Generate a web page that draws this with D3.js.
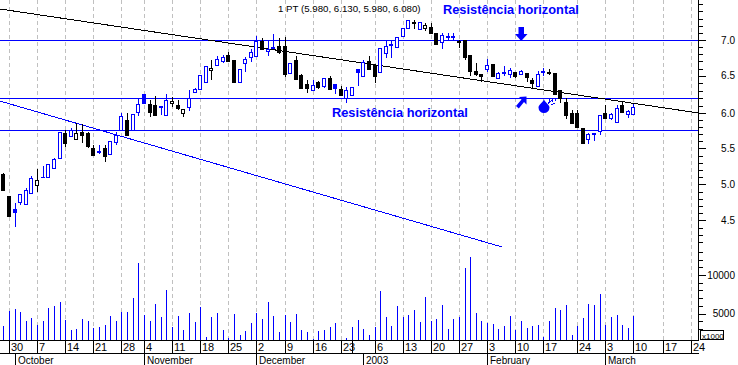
<!DOCTYPE html>
<html><head><meta charset="utf-8">
<style>html,body{margin:0;padding:0;background:#fff}svg{display:block}text{font-family:"Liberation Sans",Arial,sans-serif}</style>
<script src="https://cdn.jsdelivr.net/npm/d3@7/dist/d3.min.js"></script></head>
<body><svg id="c" width="738" height="365"></svg>
<script>
const highs=[5.173,4.863,4.763,4.886,4.977,5.137,5.233,5.274,5.297,5.379,5.740,5.767,5.790,5.858,5.845,5.744,5.562,5.562,5.562,5.612,5.744,6.005,6.005,5.982,6.201,6.260,6.178,6.233,6.096,6.260,6.224,6.178,6.059,6.315,6.338,6.516,6.639,6.726,6.781,6.790,6.831,6.721,6.598,6.763,6.872,7.055,7.023,7.000,7.078,7.023,7.046,6.690,6.781,6.530,6.452,6.452,6.438,6.475,6.507,6.397,6.370,6.352,6.361,6.598,6.726,6.781,6.653,6.886,7.000,7.000,7.037,7.169,7.274,7.274,7.251,7.237,7.228,7.091,7.091,7.091,7.091,7.000,7.000,6.795,6.680,6.530,6.735,6.667,6.566,6.644,6.612,6.557,6.589,6.548,6.475,6.580,6.612,6.598,6.548,6.310,6.201,6.041,6.041,5.790,5.721,5.731,5.977,6.105,5.995,6.105,6.169,6.041,6.13];
const lows=[4.936,4.589,4.443,4.740,4.740,4.900,4.922,5.105,5.128,5.237,5.388,5.539,5.676,5.648,5.584,5.525,5.425,5.438,5.333,5.443,5.562,5.763,5.699,5.763,5.960,6.132,5.950,5.963,5.968,5.977,6.087,6.041,5.950,6.032,6.279,6.333,6.406,6.452,6.653,6.690,6.703,6.429,6.429,6.566,6.703,6.781,6.863,6.781,6.895,6.808,6.498,6.553,6.452,6.338,6.279,6.306,6.324,6.338,6.324,6.256,6.247,6.142,6.233,6.370,6.507,6.589,6.416,6.566,6.749,6.749,6.886,7.046,7.146,7.151,7.146,7.128,7.091,6.932,6.872,7.000,7.000,6.886,6.726,6.507,6.507,6.429,6.566,6.511,6.461,6.507,6.484,6.475,6.521,6.420,6.324,6.352,6.511,6.521,6.260,6.142,5.918,5.849,5.804,5.584,5.575,5.621,5.699,5.936,5.904,5.881,6.018,5.936,5.98];
const opens=[5.164,4.863,4.648,4.781,4.753,4.900,5.082,5.119,5.128,5.251,5.388,5.721,5.685,5.721,5.744,5.731,5.516,5.466,5.516,5.443,5.607,5.763,5.899,5.763,6.018,6.132,6.123,6.105,6.087,5.977,6.160,6.105,6.059,6.087,6.288,6.333,6.420,6.621,6.662,6.712,6.795,6.721,6.429,6.680,6.772,6.781,6.986,6.845,6.895,6.918,6.918,6.553,6.726,6.521,6.397,6.315,6.420,6.374,6.484,6.338,6.333,6.201,6.247,6.566,6.507,6.712,6.653,6.566,6.817,6.932,6.909,7.059,7.160,7.247,7.146,7.205,7.174,7.091,6.968,7.046,7.046,6.991,7.000,6.795,6.580,6.530,6.598,6.667,6.475,6.553,6.539,6.557,6.534,6.548,6.452,6.374,6.562,6.557,6.548,6.310,6.151,5.995,5.995,5.790,5.639,5.712,5.753,5.995,5.932,5.881,6.105,5.986,5.98];
const closes=[4.945,4.589,4.685,4.886,4.945,5.110,5.014,5.128,5.297,5.370,5.740,5.594,5.763,5.648,5.694,5.548,5.429,5.484,5.416,5.612,5.699,5.954,5.699,5.982,6.119,6.260,6.014,5.973,6.096,6.174,6.132,6.069,6.005,6.201,6.333,6.516,6.639,6.594,6.735,6.763,6.712,6.429,6.598,6.740,6.831,6.991,6.877,6.877,6.904,6.840,6.534,6.680,6.466,6.347,6.347,6.384,6.352,6.475,6.333,6.397,6.251,6.315,6.352,6.598,6.694,6.598,6.507,6.886,6.918,6.941,7.037,7.160,7.274,7.237,7.251,7.160,7.091,6.941,7.068,7.055,7.055,6.977,6.772,6.580,6.534,6.511,6.653,6.511,6.543,6.566,6.589,6.507,6.571,6.498,6.416,6.530,6.571,6.548,6.265,6.201,5.973,5.858,5.813,5.594,5.712,5.721,5.968,5.936,5.986,6.073,6.018,6.027,6.08];
const volumes=[3377,5325,5585,5195,4026,4416,3506,4026,5714,5974,6494,4156,2857,2987,4286,4026,3117,3247,3506,4675,4026,5195,5195,7013,11558,4805,4026,6234,4545,8052,3247,4675,2857,5065,3896,5844,1948,4545,5065,2857,1818,4935,2208,
2727,3766,5065,4286,6494,4675,2597,4805,3896,4935,2857,2597,1688,2727,2857,3247,3766,1560,1818,3247,4156,2987,2208,3247,7922,4545,3377,5974,4545,4805,5455,3896,7143,4026,4286,6104,2987,4286,4545,10909,12338,5065,
4026,3766,3636,2987,3377,4675,2857,4026,3117,3377,3506,1948,4026,5714,5455,6104,2208,3377,4416,6234,6104,7532,3506,4545,4805,3506,3117,4675];
const hollowBlack=[6,13,30,32,37,75];
const solidBlue=[2,7,17,25,28,48,59,63,69,79,80,89,96,105];
const weekIndex=[1,6,11,16,21,25,30,35,40,45,50,55,60,62,66,71,76,81,86,91,96,102,107,112,117.2,122.2];
const weekLabels=["30","7","14","21","28","4","11","18","25","2","9","16","23","","6","13","20","27","3","10","17","24","3","10","17","24"];
const noGridIndex=[62];
const monthIndex=[2,25,45,64,86,107];
const monthLabels=["October","November","December","2003","February","March"];
const resistance=[7.0,6.2,5.763];
const trendBlack=[[-0.7,7.425],[123.5,6.0]];
const trendBlue=[[-0.7,6.164],[88.6,4.164]];
const priceLabels=[7.0,6.5,6.0,5.5,5.0,4.5];
const priceLabelY=[40,75.7,113.3,148.3,184.3,220.3];
const priceMinor=[7.5,7.4,7.3,7.2,7.1,7.0,6.9,6.8,6.7,6.6,6.5,6.4,6.3,6.2,6.1,6.0,5.9,5.8,5.7,5.6,5.5,5.4,5.3,5.2,5.1,5.0,4.9,4.8,4.7,4.6,4.5,4.4,4.3,4.2];
const volumeLabels=[10000,5000];
const volumeMinor=[13000,12000,11000,10000,9000,8000,7000,6000,5000,4000,3000];
const header="1 PT (5.980, 6.130, 5.980, 6.080)";
const noteText="Resistência horizontal";

const BLUE="#0000ff",W=698,BASE=340,ROW=353;
const svg=d3.select("#c");
const x=d3.scaleLinear().domain([1,112]).range([9.4,633.9]);
const y=d3.scaleLinear().domain([7,6]).range([40,113]);
const yAxisScale=d3.scaleLinear().domain(priceLabels.slice().reverse()).range(priceLabelY.slice().reverse());
const v=d3.scaleLinear().domain([5000,10000]).range([313.5,275]);
const px=i=>Math.floor(x(i))+0.5;
const crisp=g=>g.attr("shape-rendering","crispEdges");

// grid
crisp(svg.append("g")).selectAll("line").data(weekIndex.filter(i=>!noGridIndex.includes(i))).join("line")
 .attr("x1",px).attr("x2",px).attr("y1",0).attr("y2",BASE)
 .attr("stroke","#c0c0c0").attr("stroke-dasharray","4,3");

// resistance lines
crisp(svg.append("g")).selectAll("line").data(resistance).join("line")
 .attr("x1",0).attr("x2",W).attr("y1",d=>Math.floor(y(d))+0.5).attr("y2",d=>Math.floor(y(d))+0.5).attr("stroke",BLUE);

// trend lines
const lineGen=d3.line().x(d=>x(d[0])).y(d=>y(d[1]));
crisp(svg.append("path")).attr("d",lineGen(trendBlack)).attr("fill","none").attr("stroke","#000");
crisp(svg.append("path")).attr("d",lineGen(trendBlue)).attr("fill","none").attr("stroke",BLUE);

// candles
const idx=d3.range(highs.length);
const cg=crisp(svg.append("g"));
const colour=i=>closes[i]<opens[i]?"#000":BLUE;
cg.selectAll("line").data(idx).join("line")
 .attr("x1",px).attr("x2",px).attr("y1",i=>y(highs[i])).attr("y2",i=>y(lows[i])).attr("stroke",colour);
cg.selectAll("rect").data(idx).join("rect")
 .attr("x",i=>px(i)-2).attr("width",3)
 .attr("y",i=>Math.round(y(Math.max(opens[i],closes[i])))+0.5)
 .attr("height",i=>Math.max(0.01,Math.round(y(Math.min(opens[i],closes[i])))-Math.round(y(Math.max(opens[i],closes[i])))))
 .attr("stroke",colour)
 .attr("fill",i=>{
   if(hollowBlack.includes(i))return "#fff";
   if(solidBlue.includes(i))return BLUE;
   return closes[i]<opens[i]?"#000":"#fff";
 });

// volume
crisp(svg.append("g")).selectAll("line").data(idx).join("line")
 .attr("x1",px).attr("x2",px).attr("y1",i=>v(volumes[i])).attr("y2",BASE).attr("stroke",BLUE);

// right axis
const fixAxis=g=>{g.select(".domain").remove();g.selectAll("text").remove();g.selectAll("line").attr("shape-rendering","crispEdges");};
svg.append("g").attr("transform",`translate(${W+.5},0)`)
 .call(d3.axisRight(yAxisScale).tickValues(priceMinor).tickSize(4).tickFormat("")).call(fixAxis);
svg.append("g").attr("transform",`translate(${W+.5},0)`)
 .call(d3.axisRight(yAxisScale).tickValues(priceLabels).tickSize(7).tickFormat("")).call(fixAxis);
svg.append("g").attr("transform",`translate(${W+.5},0)`)
 .call(d3.axisRight(v).tickValues(volumeMinor).tickSize(4).tickFormat("")).call(fixAxis);
svg.append("g").attr("transform",`translate(${W+.5},0)`)
 .call(d3.axisRight(v).tickValues(volumeLabels).tickSize(7).tickFormat("")).call(fixAxis);
crisp(svg.append("line")).attr("x1",W+.5).attr("x2",W+.5).attr("y1",0).attr("y2",BASE).attr("stroke","#000");
svg.append("g").selectAll("text").data(priceLabels).join("text")
 .attr("x",735).attr("y",d=>yAxisScale(d)+3.5).attr("text-anchor","end").attr("font-size",10).text(d=>d.toFixed(1));
svg.append("g").selectAll("text").data(volumeLabels).join("text")
 .attr("x",735).attr("y",d=>v(d)+3.5).attr("text-anchor","end").attr("font-size",10).text(d=>d);

// x1000 box
crisp(svg.append("rect")).attr("x",700.5).attr("y",330.5).attr("width",22.5).attr("height",9).attr("fill","#fff").attr("stroke","#000");
svg.append("text").attr("x",702).attr("y",338.5).attr("font-size",8).text("x1000");

// bottom axes
crisp(svg.append("line")).attr("x1",0).attr("x2",W+1).attr("y1",BASE+.5).attr("y2",BASE+.5).attr("stroke","#000");
crisp(svg.append("line")).attr("x1",0).attr("x2",W+1).attr("y1",ROW+.5).attr("y2",ROW+.5).attr("stroke","#000");
crisp(svg.append("g")).selectAll("line").data(weekIndex).join("line")
 .attr("x1",px).attr("x2",px).attr("y1",BASE).attr("y2",ROW).attr("stroke","#000");
svg.append("g").selectAll("text").data(weekIndex).join("text")
 .attr("x",i=>px(i)+1.5).attr("y",351).attr("font-size",11).text((d,i)=>weekLabels[i]);
crisp(svg.append("g")).selectAll("line").data(monthIndex).join("line")
 .attr("x1",px).attr("x2",px).attr("y1",ROW).attr("y2",365).attr("stroke","#000");
svg.append("g").selectAll("text").data(monthIndex).join("text")
 .attr("x",i=>px(i)+2.5).attr("y",364).attr("font-size",10).text((d,i)=>monthLabels[i]);

// texts
svg.append("text").attr("x",278).attr("y",12).attr("font-size",9.7).text(header);
svg.append("text").attr("x",443).attr("y",14).attr("font-size",12.8).attr("font-weight","bold").attr("fill",BLUE).text(noteText);
svg.append("text").attr("x",332).attr("y",117).attr("font-size",12.8).attr("font-weight","bold").attr("fill",BLUE).text(noteText);

// arrows and drop
svg.append("path").attr("fill",BLUE).attr("d","M518.5 27H524V34H527.5L521.2 41L515 34H518.5Z");
svg.append("path").attr("fill",BLUE).attr("d","M526.5 96.5V104.5L524 102L518.8 108.5L516 106L521.5 99.5L519 97Z");
svg.append("path").attr("fill",BLUE).attr("d","M544 99.5C545 102.5 549.5 104.5 549.5 107.5A5.5 5.5 0 0 1 538.5 107.5C538.5 104.5 543 102.5 544 99.5Z");
svg.append("path").attr("stroke",BLUE).attr("fill","none").attr("shape-rendering","crispEdges")
 .attr("d","M548 103.5L552 100M551 105L555 103M552 98.5L553 102M555 98L556 100.5M549 99L550 101");
</script></body></html>
